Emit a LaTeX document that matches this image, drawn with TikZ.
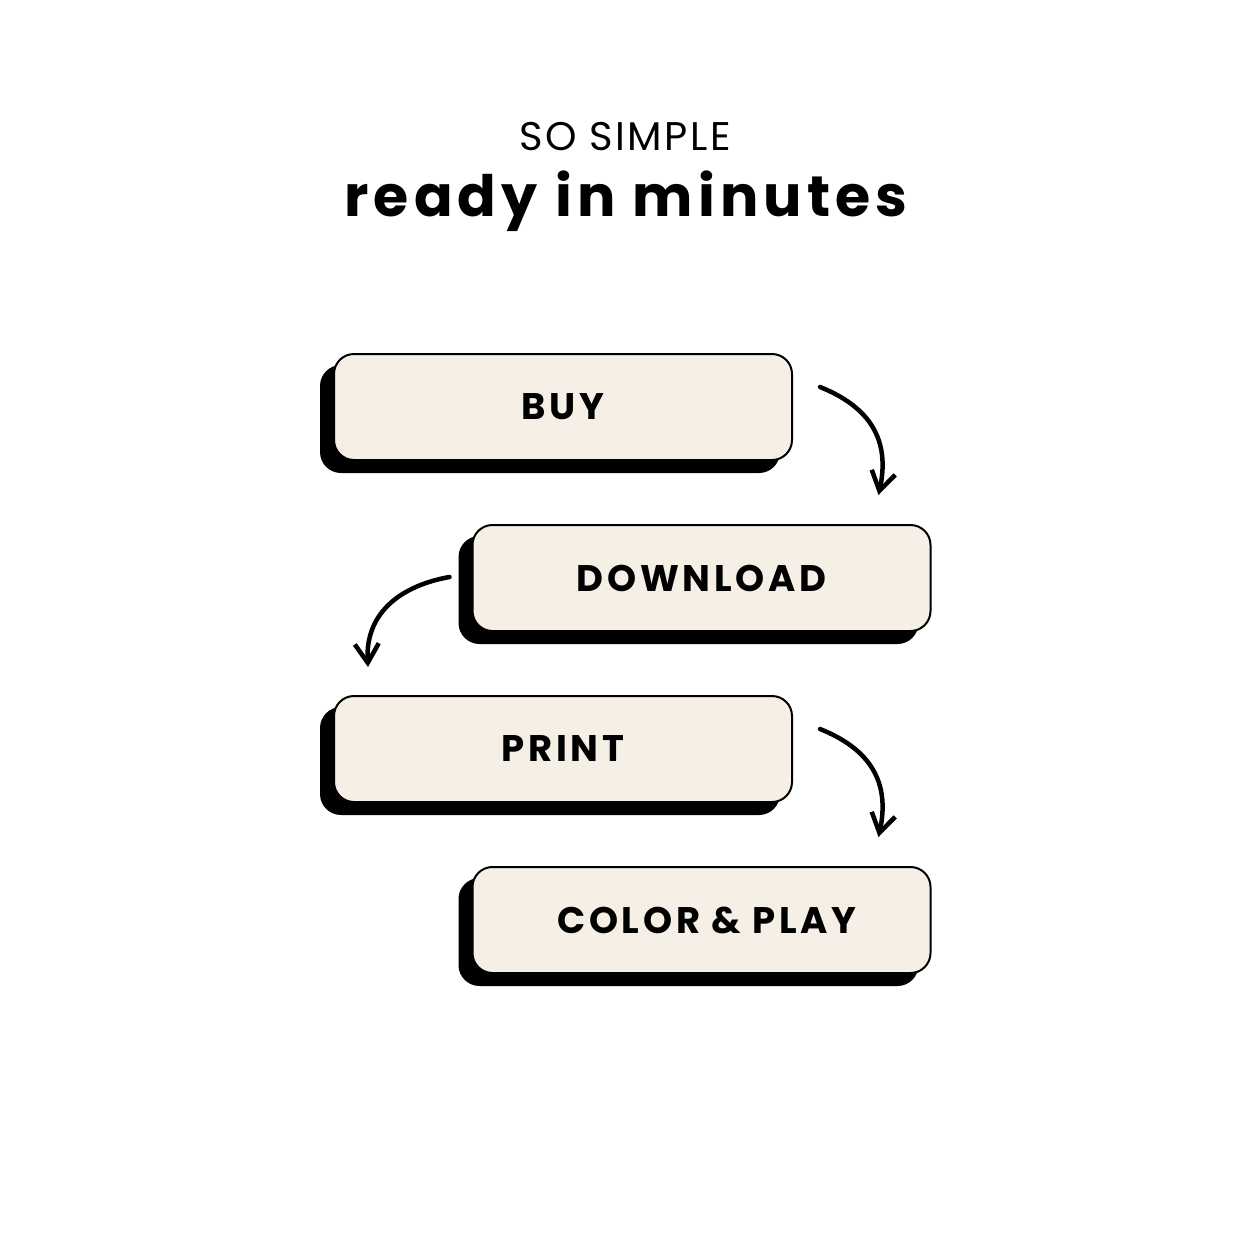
\documentclass[tikz,border=0pt]{standalone}
\usepackage{fontspec}
\setmainfont{Poppins}
\usetikzlibrary{arrows.meta,shadows,calc}
\definecolor{cream}{HTML}{F5EFE5}
\tikzset{
  stepbox/.style={draw=black, line width=2pt, fill=cream, rounded corners=20pt,
    minimum width=458pt, minimum height=106pt, inner sep=0pt,
    font=\fontsize{37}{40}\selectfont\bfseries\addfontfeatures{LetterSpace=10},
    general shadow={draw=black, fill=black, shadow xshift=-13pt, shadow yshift=-12pt}},
  flow/.style={line width=4.5pt, line cap=round, -{Straight Barb[length=19pt,width=24pt,line width=4.5pt]}}
}
\begin{document}
\begin{tikzpicture}[x=1pt,y=-1pt]
\useasboundingbox[fill=white] (0,0) rectangle (1250,1250);
\node (sub) at (625,137) {\fontsize{40}{43}\selectfont\addfontfeatures{LetterSpace=6}SO SIMPLE};
\node (title) at (626,201) {\fontsize{57}{62}\selectfont\bfseries\addfontfeatures{LetterSpace=9}ready in minutes};
\node[stepbox] (buy) at (563,407) {BUY};
\node[stepbox] (download) at (701.5,578) {DOWNLOAD};
\node[stepbox] (print) at (563,749) {PRINT};
\node[stepbox] (color) at (701.5,920) {\hspace*{11pt}COLOR \& PLAY};
\coordinate (a1s) at ($(buy.east)+(27,-20)$);
\coordinate (a1e) at ($(download.north east)+(-53,-29)$);
\coordinate (a2s) at ($(download.west)+(-22,-1)$);
\coordinate (a2e) at ($(print.north west)+(35,-28)$);
\coordinate (a3s) at ($(print.east)+(27,-20)$);
\coordinate (a3e) at ($(color.north east)+(-53,-29)$);
\draw[flow] (a1s) .. controls ($(a1s)+(50,20)$) and ($(a1e)+(12,-55)$) .. (a1e);
\draw[flow] (a2s) .. controls ($(a2s)+(-45,8)$) and ($(a2e)+(-3,-57)$) .. (a2e);
\draw[flow] (a3s) .. controls ($(a3s)+(50,20)$) and ($(a3e)+(12,-55)$) .. (a3e);
\end{tikzpicture}
\end{document}
